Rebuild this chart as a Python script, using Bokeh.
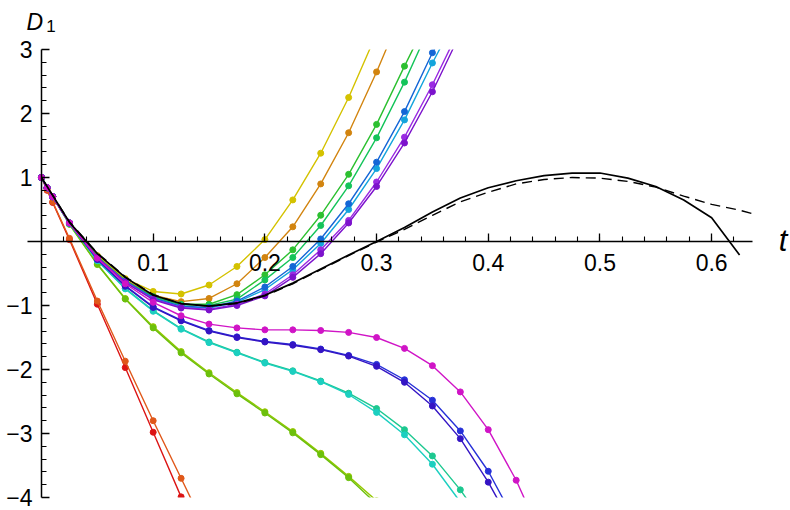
from bokeh.plotting import figure
from bokeh.models import FixedTicker, Label, Range1d, BoxAnnotation
from bokeh.embed import file_html
from bokeh.resources import INLINE

# sample times of the coloured series
T = [0, 0.005, 0.01, 0.025, 0.05, 0.075, 0.1, 0.125, 0.15, 0.175, 0.2,
     0.225, 0.25, 0.275, 0.3, 0.325, 0.35, 0.375, 0.4, 0.425, 0.45]

red = [1.0, 0.80, 0.61, 0.03, -0.98, -1.97, -2.98, -3.99, -5.0]
orange_red = [1.0, 0.81, 0.62, 0.05, -0.93, -1.87, -2.80, -3.70, -4.6]
orange = [1.0, 0.84, 0.70, 0.29, -0.23, -0.60, -0.84, -0.94, -0.89, -0.66, -0.25, 0.23, 0.90, 1.70, 2.65, 3.68]
yellow = [1.0, 0.84, 0.70, 0.29, -0.22, -0.58, -0.78, -0.82, -0.68, -0.39, 0.03, 0.65, 1.38, 2.25, 3.25]
yellow_green = [1.0, 0.84, 0.70, 0.27, -0.35, -0.89, -1.33, -1.72, -2.05, -2.36, -2.66, -2.97, -3.31, -3.67, -4.05]
lime = [1.0, 0.84, 0.70, 0.27, -0.36, -0.90, -1.35, -1.74, -2.07, -2.38, -2.68, -2.99, -3.33, -3.69, -4.10]
green1 = [1.0, 0.84, 0.70, 0.29, -0.24, -0.61, -0.86, -0.98, -0.98, -0.83, -0.52, -0.13, 0.41, 1.05, 1.83, 2.74, 3.62]
green2 = [1.0, 0.84, 0.70, 0.29, -0.24, -0.62, -0.87, -0.99, -1.00, -0.90, -0.60, -0.25, 0.25, 0.87, 1.62, 2.49, 3.45]
teal_green = [1.0, 0.84, 0.70, 0.28, -0.30, -0.73, -1.08, -1.36, -1.57, -1.73, -1.89, -2.02, -2.18, -2.37, -2.61, -2.94, -3.35, -3.88, -4.5]
teal_cyan = [1.0, 0.84, 0.70, 0.28, -0.30, -0.74, -1.09, -1.37, -1.58, -1.74, -1.90, -2.03, -2.19, -2.39, -2.67, -3.02, -3.48, -4.07, -4.8]
cyan_up = [1.0, 0.84, 0.70, 0.29, -0.25, -0.63, -0.89, -1.02, -1.04, -0.95, -0.75, -0.44, -0.03, 0.50, 1.14, 1.90, 2.79, 3.62]
blue_up = [1.0, 0.84, 0.70, 0.29, -0.25, -0.62, -0.88, -1.01, -1.03, -0.93, -0.71, -0.39, 0.04, 0.59, 1.24, 2.03, 2.95, 3.70]
blue_down = [1.0, 0.84, 0.70, 0.29, -0.28, -0.69, -1.02, -1.23, -1.39, -1.49, -1.56, -1.61, -1.68, -1.78, -1.92, -2.16, -2.48, -2.96, -3.59, -4.4]
indigo_down = [1.0, 0.84, 0.70, 0.29, -0.28, -0.70, -1.03, -1.24, -1.40, -1.50, -1.57, -1.62, -1.69, -1.79, -1.95, -2.20, -2.57, -3.08, -3.76, -4.55]
purple1 = [1.0, 0.84, 0.70, 0.29, -0.25, -0.63, -0.90, -1.03, -1.06, -0.98, -0.82, -0.52, -0.13, 0.33, 0.93, 1.63, 2.45, 3.35]
purple2 = [1.0, 0.84, 0.70, 0.29, -0.25, -0.64, -0.91, -1.04, -1.07, -1.00, -0.85, -0.56, -0.19, 0.29, 0.86, 1.54, 2.34, 3.25]
magenta = [1.0, 0.84, 0.70, 0.29, -0.26, -0.66, -0.95, -1.16, -1.29, -1.35, -1.38, -1.38, -1.39, -1.42, -1.50, -1.67, -1.94, -2.35, -2.94, -3.73, -4.70]

series = [
    (red, "#dc1414"), (orange_red, "#e0581a"), (orange, "#d2840f"),
    (yellow, "#d4c200"), (yellow_green, "#94c800"), (lime, "#6cc00c"),
    (green1, "#2cc030"), (green2, "#14c45a"), (teal_green, "#1cc890"),
    (teal_cyan, "#1ccfc0"), (cyan_up, "#14a4dc"), (blue_up, "#1466d6"),
    (blue_down, "#2630d8"), (indigo_down, "#3414c4"), (purple1, "#9a2ae2"),
    (purple2, "#7c12cc"), (magenta, "#d014c6"),
]

# black reference curves
black_t = [0, 0.025, 0.05, 0.075, 0.1, 0.125, 0.15, 0.175, 0.2, 0.225, 0.25, 0.275, 0.3,
           0.325, 0.35, 0.375, 0.4, 0.425, 0.45, 0.475, 0.5, 0.525, 0.55, 0.575, 0.6, 0.625]
black = [1.0, 0.30, -0.19, -0.56, -0.84, -0.97, -1.01, -0.96, -0.84, -0.65, -0.43, -0.21, 0.0,
         0.22, 0.46, 0.68, 0.84, 0.95, 1.03, 1.07, 1.07, 0.99, 0.86, 0.65, 0.37, -0.21]
dashed_t = black_t + [0.64]
dashed = [1.0, 0.31, -0.18, -0.55, -0.83, -0.97, -1.01, -0.97, -0.85, -0.66, -0.44, -0.22, -0.01,
          0.19, 0.41, 0.62, 0.77, 0.90, 0.97, 1.00, 0.99, 0.94, 0.85, 0.71, 0.58, 0.49, 0.42]

x_ticks = [0.1, 0.2, 0.3, 0.4, 0.5, 0.6]
y_ticks = [-4, -3, -2, -1, 1, 2, 3]
y_tick_labels = {-4: "\u22124", -3: "\u22123", -2: "\u22122", -1: "\u22121", 1: "1", 2: "2", 3: "3"}

Y_MIN, Y_MAX = -4, 3          # plotted window of the data
X_AXIS_START, X_AXIS_END = -0.0125, 0.637
X0, X1 = -0.0367, 0.6706      # view incl. room for the axis texts
Y_BOTTOM, Y_TOP = -4.203, 3.766

p = figure(width=790, height=510, output_backend="svg", toolbar_location=None,
           x_range=Range1d(X0, X1), y_range=Range1d(Y_BOTTOM, Y_TOP),
           min_border_left=0, min_border_right=0, min_border_top=0, min_border_bottom=0)
p.title.visible = False
p.outline_line_color = None
p.xgrid.visible = False
p.ygrid.visible = False
p.background_fill_color = "white"

for vals, col in series:
    tt = T[:len(vals)]
    p.line(tt, vals, line_color=col, line_width=1.4)
    # markers only for samples inside (or touching) the data window
    mt = [t for t, v in zip(tt, vals) if Y_MIN - 0.12 <= v <= Y_MAX + 0.12]
    mv = [v for v in vals if Y_MIN - 0.12 <= v <= Y_MAX + 0.12]
    p.scatter(mt, mv, size=6, fill_color=col, line_color=col)

p.line(black_t, black, line_color="black", line_width=1.7)
p.line(dashed_t, dashed, line_color="black", line_width=1.4, line_dash="10 6")

# data window is [Y_MIN, Y_MAX]: blank out whatever is drawn outside it
mask_top = BoxAnnotation(bottom=Y_MAX, fill_color="white", fill_alpha=1.0,
                         line_color=None, level="glyph")
mask_bottom = BoxAnnotation(top=Y_MIN, fill_color="white", fill_alpha=1.0,
                            line_color=None, level="glyph")
p.renderers.extend([mask_top, mask_bottom])

FONT = "Liberation Sans"
xa = p.xaxis[0]
xa.fixed_location = 0
xa.bounds = (X_AXIS_START, X_AXIS_END)
xa.ticker = FixedTicker(ticks=x_ticks, minor_ticks=[round(0.02 * i, 2) for i in range(1, 32)])
xa.major_label_overrides = {v: f"{v:.1f}" for v in x_ticks}
ya = p.yaxis[0]
ya.fixed_location = 0
ya.bounds = (Y_MIN, Y_MAX)
ya.ticker = FixedTicker(ticks=y_ticks, minor_ticks=[round(-4 + 0.2 * i, 1) for i in range(36) if (i % 5) != 0])
ya.major_label_overrides = y_tick_labels

for ax in (xa, ya):
    ax.axis_line_color = "black"
    ax.axis_line_width = 1.5
    ax.major_tick_line_color = "black"
    ax.minor_tick_line_color = "black"
    ax.major_tick_line_width = 1.3
    ax.minor_tick_line_width = 1.1
    ax.major_tick_in = 8
    ax.major_tick_out = 0
    ax.minor_tick_in = 5
    ax.minor_tick_out = 0
    ax.major_label_text_font = FONT
    ax.major_label_text_font_size = "23px"
    ax.major_label_text_color = "black"
xa.major_label_standoff = 12
ya.major_label_standoff = 9

p.add_layout(Label(x=-0.0134, y=3.43, text="D", text_font=FONT, text_font_style="italic",
                   text_font_size="23px", text_color="black", text_baseline="alphabetic"))
p.add_layout(Label(x=0.0042, y=3.36, text="1", text_font=FONT,
                   text_font_size="17px", text_color="black", text_baseline="alphabetic"))
p.add_layout(Label(x=0.6600, y=0.02, text="t", text_font=FONT, text_font_style="italic",
                   text_font_size="31px", text_color="black", text_baseline="alphabetic"))

open("out.html", "w").write(file_html(p, INLINE))
